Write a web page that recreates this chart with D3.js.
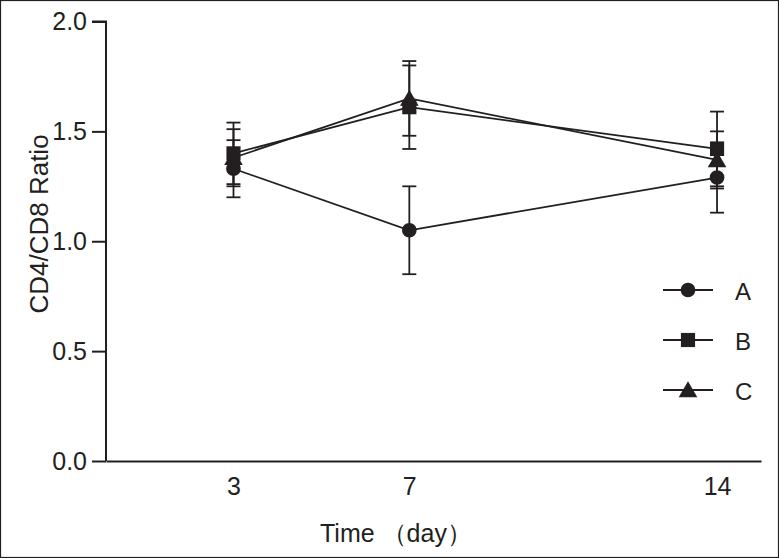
<!DOCTYPE html>
<html><head><meta charset="utf-8">
<script src="https://cdn.jsdelivr.net/npm/d3@7/dist/d3.min.js"></script>
<style>body{margin:0;background:#fff}svg{display:block}</style>
</head><body>
<svg id="c" width="779" height="558"></svg>
<script>
const days = [3, 7, 14];
const seriesNames = ["A", "B", "C"];
const valuesA = [1.33, 1.05, 1.29];
const errorsA = [0.13, 0.20, 0.16];
const valuesB = [1.40, 1.61, 1.42];
const errorsB = [0.14, 0.19, 0.17];
const valuesC = [1.38, 1.65, 1.37];
const errorsC = [0.13, 0.17, 0.13];
const yTicks = [0, 0.5, 1.0, 1.5, 2.0];
const xLabel = "Time （day）";
const yLabel = "CD4/CD8 Ratio";

const ink = "#231f20";
const font = "'Liberation Sans', Arial, sans-serif";
const svg = d3.select("#c");
svg.append("rect").attr("x",0.5).attr("y",0.5).attr("width",778).attr("height",557)
  .attr("fill","#fff").attr("stroke",ink).attr("stroke-width",1.2);

const x = d3.scaleLinear().domain([0.1, 15]).range([106, 761]);
const y = d3.scaleLinear().domain([0, 2]).range([461, 21.5]);

// axes
const yAxis = d3.axisLeft(y).tickValues(yTicks).tickFormat(d3.format(".1f")).tickSize(14).tickPadding(5);
const gy = svg.append("g").attr("transform","translate(106,0)").call(yAxis);
gy.select(".domain").attr("stroke",ink).attr("stroke-width",2).attr("d", `M-14,${y(2)}H0V${y(0)}`);
gy.selectAll(".tick line").attr("stroke",ink).attr("stroke-width",2);
gy.selectAll(".tick text").attr("fill",ink).style("font-family",font).style("font-size","25px");

const xAxis = d3.axisBottom(x).tickValues(days).tickFormat(d3.format("d")).tickSize(0).tickPadding(16);
const gx = svg.append("g").attr("transform",`translate(0,${y(0)})`).call(xAxis);
gx.select(".domain").attr("stroke",ink).attr("stroke-width",2);
gx.selectAll(".tick text").attr("fill",ink).style("font-family",font).style("font-size","25px");

svg.append("text").attr("x",320).attr("y",542).attr("text-anchor","start")
  .attr("fill",ink).style("font-family",font).style("font-size","25px").text(xLabel);
svg.append("text").attr("transform",`translate(48,224) rotate(-90)`).attr("text-anchor","middle")
  .attr("fill",ink).style("font-family",font).style("font-size","26px").text(yLabel);

const series = [
  {name: seriesNames[0], v: valuesA, e: errorsA, shape: "circle"},
  {name: seriesNames[1], v: valuesB, e: errorsB, shape: "square"},
  {name: seriesNames[2], v: valuesC, e: errorsC, shape: "triangle"}
];
const sym = {
  circle: d3.symbol().type(d3.symbolCircle).size(170),
  square: d3.symbol().type(d3.symbolSquare).size(200),
  triangle: d3.symbol().type(d3.symbolTriangle).size(150)
};
const line = d3.line().x(d=>x(d.day)).y(d=>y(d.v));
const cap = 7;
const sw = 1.8;

series.forEach(s => {
  const pts = days.map((d,i)=>({day:d, v:s.v[i], e:s.e[i]}));
  const g = svg.append("g");
  pts.forEach(p => {
    const cx = x(p.day);
    g.append("line").attr("x1",cx).attr("x2",cx).attr("y1",y(p.v+p.e)).attr("y2",y(p.v-p.e))
      .attr("stroke",ink).attr("stroke-width",sw);
    [p.v+p.e, p.v-p.e].forEach(val => g.append("line").attr("x1",cx-cap).attr("x2",cx+cap)
      .attr("y1",y(val)).attr("y2",y(val)).attr("stroke",ink).attr("stroke-width",sw));
  });
  g.append("path").datum(pts).attr("d",line).attr("fill","none").attr("stroke",ink).attr("stroke-width",sw);
});
series.forEach(s => {
  days.forEach((d,i) => {
    const dy = s.shape === "triangle" ? 2 : 0;
    svg.append("path").attr("d", sym[s.shape]()).attr("fill",ink)
      .attr("transform",`translate(${x(d)},${y(s.v[i])+dy})`);
  });
});

// legend
const legY = [290, 340, 390];
series.forEach((s,i) => {
  const g = svg.append("g").attr("transform",`translate(0,${legY[i]})`);
  g.append("line").attr("x1",663).attr("x2",713).attr("y1",0).attr("y2",0).attr("stroke",ink).attr("stroke-width",sw);
  g.append("path").attr("d", sym[s.shape]()).attr("fill",ink).attr("transform",`translate(688,${s.shape==="triangle"?2:0})`);
  g.append("text").attr("x",735).attr("y",10).attr("fill",ink).style("font-family",font).style("font-size","24px").text(s.name);
});
</script>
</body></html>
